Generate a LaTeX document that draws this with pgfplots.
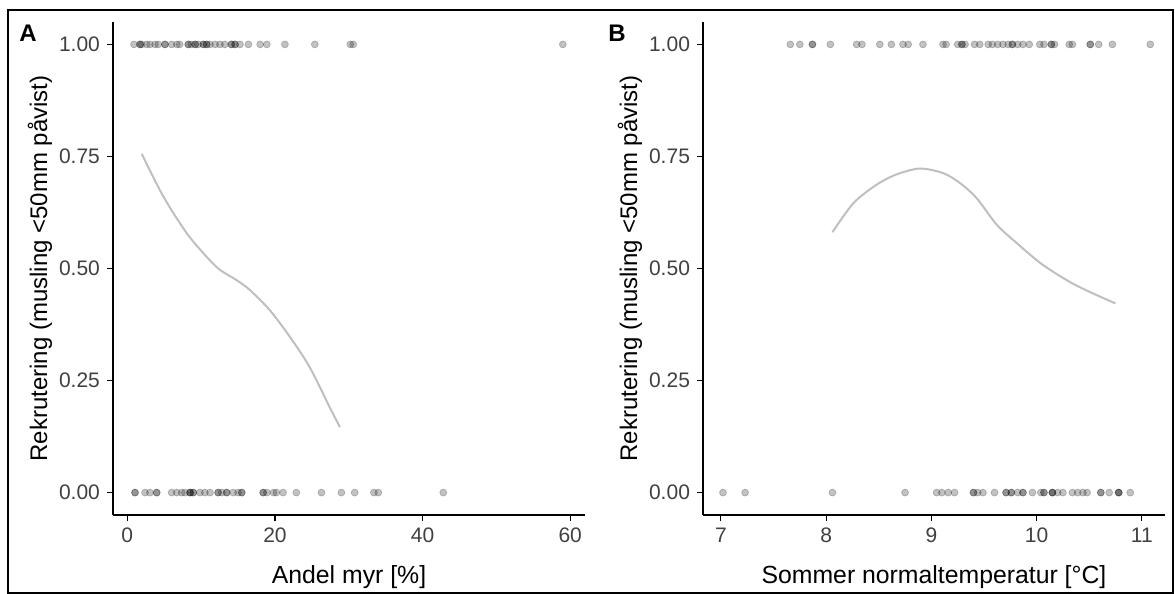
\documentclass[border=0pt]{standalone}
\usepackage{fontspec}
\setmainfont{Liberation Sans}
\usepackage{pgfplots}
\pgfplotsset{compat=1.18}

\pgfplotsset{
  panel/.style={
    scale only axis,
    width=236pt, height=246.5pt,
    ymin=-0.05, ymax=1.05,
    ytick={0,0.25,0.5,0.75,1},
    yticklabels={0.00,0.25,0.50,0.75,1.00},
    axis x line*=bottom, axis y line*=left,
    axis line style={-, black, line width=0.6pt},
    tick align=outside,
    major tick length=3pt,
    every tick/.style={black, line width=0.6pt},
    tick label style={font=\fontsize{10.5}{12}\selectfont, black!75},
    xlabel style={font=\fontsize{12.4}{15}\selectfont},
    ylabel style={font=\fontsize{12}{14}\selectfont},
    /pgf/number format/assume math mode=true,
    ylabel={Rekrutering (musling <50mm påvist)},
    ylabel style={at={([xshift=-36.5pt]axis description cs:0,0.5)}, anchor=center},
    xlabel style={at={([yshift=-31pt]axis description cs:0.5,0)}, anchor=center},
    clip=false,
  },
  pts/.style={only marks, mark=*, mark size=1.75pt,
    mark options={draw=black, fill=black, draw opacity=0.22, fill opacity=0.24, line width=0.35pt}},
  fit/.style={no marks, color=black!25, line width=1pt, smooth},
}

\begin{document}
\begin{tikzpicture}
\useasboundingbox (0,0) rectangle (587.5pt,-297pt);
\draw[black, line width=0.7pt] (4pt,-5pt) rectangle (586.5pt,-296.5pt);
\node[font=\bfseries\fontsize{12}{14}\selectfont] at (14pt,-16.5pt) {A};
\node[font=\bfseries\fontsize{12}{14}\selectfont] at (308.5pt,-16.5pt) {B};

% Panel A
\begin{axis}[panel, at={(56.5pt,-11pt)}, anchor=north west,
  xmin=-1.94, xmax=62, xtick={0,20,40,60},
  xlabel={Andel myr [\%]}]
\addplot[pts] table {
x y
0.9 1
1.72 1
1.72 1
1.95 1
2.62 1
3.07 1
3.75 1
4.2 1
5.1 1
5.1 1
6.0 1
6.7 1
7.1 1
8.26 1
8.26 1
8.7 1
9.2 1
9.2 1
9.6 1
10.3 1
10.3 1
10.75 1
10.75 1
11.2 1
11.9 1
12.55 1
13.2 1
14.1 1
14.1 1
14.6 1
14.6 1
15.26 1
16.4 1
18.0 1
18.9 1
21.35 1
25.4 1
30.2 1
30.6 1
59.0 1
1.04 0
1.04 0
2.4 0
3.07 0
3.98 0
3.98 0
6.0 0
6.7 0
7.36 0
7.8 0
8.5 0
8.5 0
8.5 0
8.94 0
8.94 0
9.84 0
10.5 0
11.2 0
12.3 0
12.3 0
12.8 0
13.46 0
13.46 0
14.35 0
15.0 0
15.5 0
15.5 0
18.4 0
18.4 0
18.9 0
19.8 0
20.2 0
21.1 0
22.9 0
26.3 0
29.0 0
30.8 0
33.4 0
34.0 0
42.8 0
};
\addplot[fit] table {
x y
1.95 0.756
4.87 0.661
8.04 0.579
10.75 0.526
12.55 0.497
14.81 0.474
16.6 0.452
19.3 0.407
22.0 0.348
24.7 0.280
27.4 0.191
28.8 0.146
};
\end{axis}

% Panel B
\begin{axis}[panel, at={(351.5pt,-11pt)}, anchor=north west, width=231pt,
  xmin=6.83, xmax=11.22, xtick={7,8,9,10,11},
  xlabel={Sommer normaltemperatur [°C]}]
\addplot[pts] table {
x y
7.66 1
7.75 1
7.87 1
7.87 1
8.04 1
8.29 1
8.34 1
8.51 1
8.62 1
8.73 1
8.78 1
8.92 1
9.11 1
9.14 1
9.25 1
9.29 1
9.29 1
9.32 1
9.41 1
9.46 1
9.54 1
9.58 1
9.63 1
9.68 1
9.73 1
9.77 1
9.77 1
9.82 1
9.87 1
9.93 1
10.03 1
10.07 1
10.14 1
10.14 1
10.17 1
10.31 1
10.34 1
10.51 1
10.51 1
10.59 1
10.72 1
11.08 1
7.02 0
7.23 0
8.06 0
8.75 0
9.05 0
9.10 0
9.16 0
9.22 0
9.40 0
9.40 0
9.44 0
9.49 0
9.60 0
9.71 0
9.71 0
9.76 0
9.76 0
9.82 0
9.87 0
9.87 0
9.96 0
10.04 0
10.07 0
10.07 0
10.15 0
10.15 0
10.15 0
10.2 0
10.25 0
10.34 0
10.39 0
10.44 0
10.48 0
10.61 0
10.61 0
10.69 0
10.78 0
10.78 0
10.78 0
10.89 0
};
\addplot[fit] table {
x y
8.06 0.581
8.26 0.646
8.48 0.687
8.67 0.710
8.89 0.723
9.11 0.713
9.27 0.691
9.43 0.657
9.62 0.598
9.81 0.557
10.06 0.508
10.37 0.463
10.75 0.422
};
\end{axis}
\end{tikzpicture}
\end{document}
